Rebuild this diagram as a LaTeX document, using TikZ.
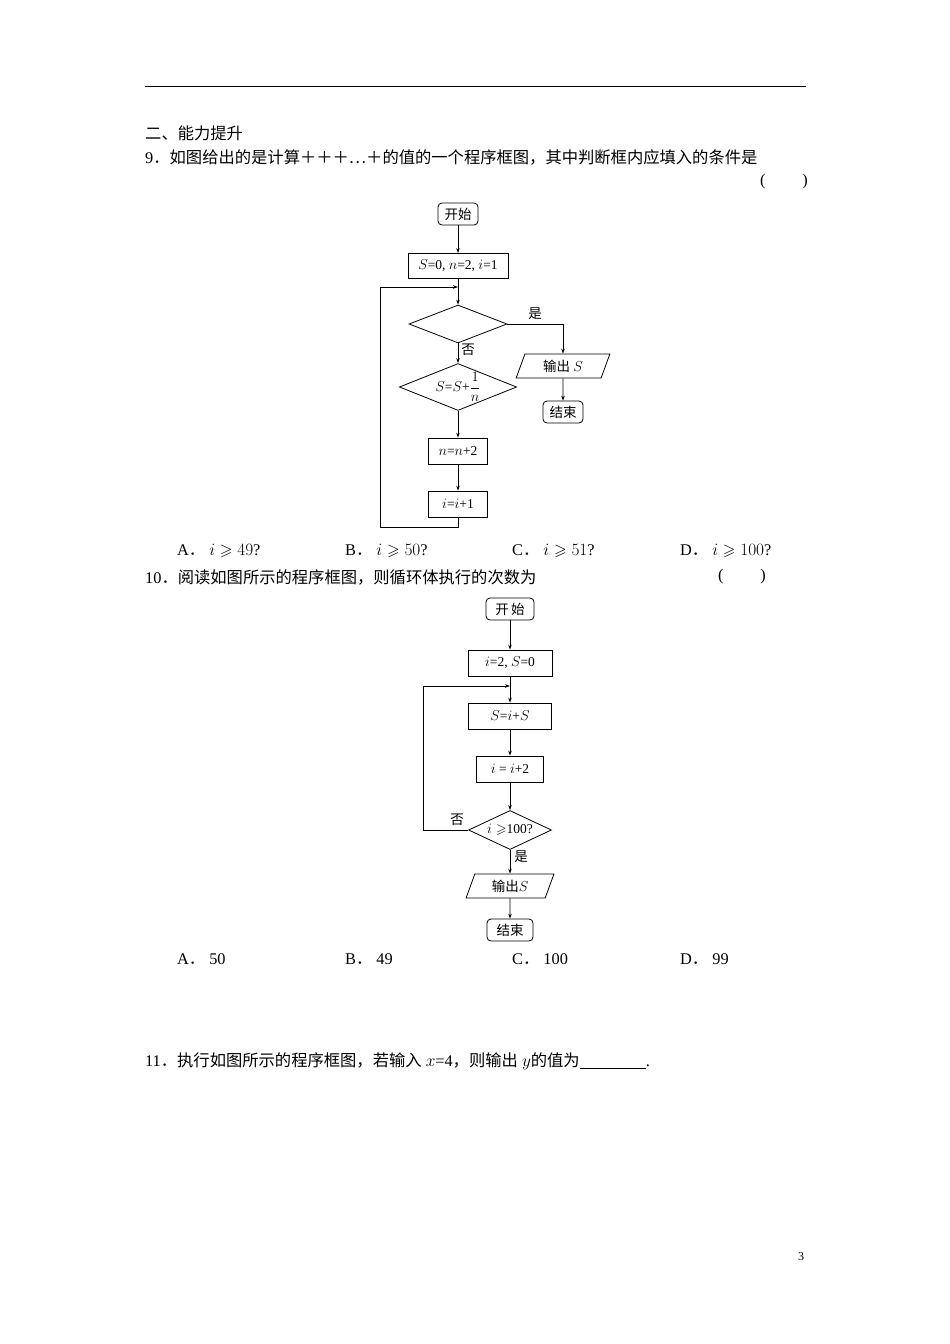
\documentclass[tikz,border=0pt]{standalone}
\usepackage{amssymb}
\usepackage{amsmath}
\usepackage{fontspec}
\setmainfont{Liberation Serif}
\newfontfamily\cjk{Noto Sans CJK SC}
\usetikzlibrary{shapes.geometric,arrows.meta}
\begin{document}
\begin{tikzpicture}[x=1pt,y=-1pt,
  txt/.style={anchor=west,inner sep=0pt,font=\fontsize{16.3}{18}\selectfont},
  fc/.style={draw,line width=0.8pt,font=\fontsize{13.5}{15}\selectfont,inner sep=0pt},
  term/.style={fc,rounded corners=4pt,minimum height=22pt},
  proc/.style={fc,minimum height=25pt},
  dia/.style={fc,diamond,aspect=2.5},
  io/.style={fc,trapezium,trapezium left angle=70,trapezium right angle=110,minimum height=24pt},
  ar/.style={line width=0.7pt,-{Stealth[length=5pt,width=3.5pt]}},
  ln/.style={line width=0.7pt}]
\fill[white] (0,0) rectangle (950,1344);
\draw[line width=0.8pt] (145,86) -- (806,86);
\node[txt] (t1) at (145,133) {\cjk 二、能力提升};
\node[txt] (t2) at (145,157) {9\cjk．如图给出的是计算＋＋＋⋯＋的值的一个程序框图，其中判断框内应填入的条件是};
\node[txt] (t3) at (760,182) {(\qquad\ )};
% chart 1
\node[term,minimum width=40pt] (s1) at (458,214) {\cjk 开始};
\node[proc,minimum width=100pt] (a1) at (458,266) {$S$=0, $n$=2, $i$=1};
\node[dia,minimum width=98pt,minimum height=38pt] (d1) at (458,324) {};
\node[io,minimum width=50pt] (o1) at (563,366) {\cjk 输出 \normalfont$S$};
\node[term,minimum width=40pt] (e1) at (563,412) {\cjk 结束};
\node[dia,minimum width=105pt,minimum height=45pt] (d2) at (458,387) {$S$=$S$+$\dfrac{1}{n}$};
\node[proc,minimum width=59pt,minimum height=26pt] (b1) at (458,451) {$n$=$n$+2};
\node[proc,minimum width=59pt,minimum height=26pt] (c1) at (458,504) {$i$=$i$+1};
\coordinate (j1) at (458,287);
\coordinate (k1) at (563,324);
\coordinate (l1) at (458,527);
\coordinate (l2) at (380,527);
\coordinate (l3) at (380,287);
\draw[ar] (s1) -- (a1);
\draw[ar] (a1) -- (d1);
\draw[ln] (d1.east) -- (k1);
\draw[ar] (k1) -- (o1);
\draw[ar] (o1) -- (e1);
\draw[ar] (d1) -- (d2);
\draw[ar] (d2) -- (b1);
\draw[ar] (b1) -- (c1);
\draw[ln] (c1) -- (l1) -- (l2) -- (l3);
\draw[ar] (l3) -- (j1);
\node[font=\cjk\fontsize{13.5}{15}\selectfont] (y1) at (535,314) {是};
\node[font=\cjk\fontsize{13.5}{15}\selectfont] (n1) at (468,350) {否};
\node[txt] (o9a) at (177,551) {A\cjk．\normalfont\ $i\geqslant49$?};
\node[txt] (o9b) at (345,551) {B\cjk．\normalfont\ $i\geqslant50$?};
\node[txt] (o9c) at (512,551) {C\cjk．\normalfont\ $i\geqslant51$?};
\node[txt] (o9d) at (680,551) {D\cjk．\normalfont\ $i\geqslant100$?};
\node[txt] (t10) at (145,577) {10\cjk．阅读如图所示的程序框图，则循环体执行的次数为};
\node[txt] (t10b) at (718,577) {(\qquad\ )};
% chart 2
\node[term,minimum width=48pt] (s2) at (510,609) {\cjk 开\,始};
\node[proc,minimum width=84pt,minimum height=26pt] (a2) at (510,663) {$i$=2, $S$=0};
\node[proc,minimum width=83pt,minimum height=26pt] (b2) at (510,716) {$S$=$i$+$S$};
\node[proc,minimum width=67pt,minimum height=26pt] (c2) at (510,769) {$i$ = $i$+2};
\node[dia,minimum width=83pt,minimum height=39pt] (d3) at (510,830) {$i\geqslant$100?};
\node[io,minimum width=66pt] (o2) at (510,886) {\cjk 输出\normalfont$S$};
\node[term,minimum width=46pt] (e2) at (510,930) {\cjk 结束};
\coordinate (j2) at (510,686);
\coordinate (m1) at (423,830);
\coordinate (m2) at (423,686);
\draw[ar] (s2) -- (a2);
\draw[ar] (a2) -- (b2);
\draw[ar] (b2) -- (c2);
\draw[ar] (c2) -- (d3);
\draw[ar] (d3) -- (o2);
\draw[ar] (o2) -- (e2);
\draw[ln] (d3.west) -- (m1) -- (m2);
\draw[ar] (m2) -- (j2);
\node[font=\cjk\fontsize{13.5}{15}\selectfont] (n2) at (457,820) {否};
\node[font=\cjk\fontsize{13.5}{15}\selectfont] (y2) at (521,857) {是};
\node[txt] (o10a) at (177,959) {A\cjk．\normalfont\ 50};
\node[txt] (o10b) at (345,959) {B\cjk．\normalfont\ 49};
\node[txt] (o10c) at (512,959) {C\cjk．\normalfont\ 100};
\node[txt] (o10d) at (680,959) {D\cjk．\normalfont\ 99};
\node[txt] (t11) at (145,1061) {11\cjk．执行如图所示的程序框图，若输入\normalfont\ $x$=4\cjk，则输出\normalfont\ $y$\cjk 的值为\normalfont\underline{\hspace{66pt}}.};
\node[txt,font=\fontsize{12}{14}\selectfont] (pg) at (798,1257) {3};
\end{tikzpicture}
\end{document}
